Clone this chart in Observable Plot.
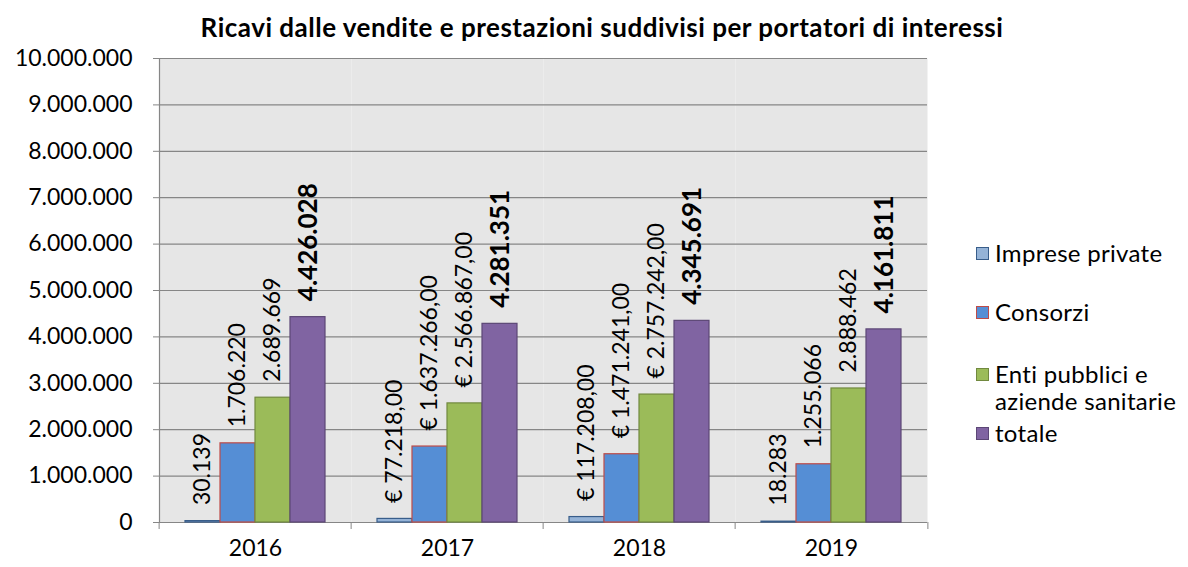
<!DOCTYPE html>
<html><head><meta charset="utf-8">
<script src="https://cdn.jsdelivr.net/npm/d3@7"></script>
<script src="https://cdn.jsdelivr.net/npm/@observablehq/plot@0.6"></script>
<style>
body{margin:0;background:#fff;font-family:Lato,sans-serif;color:#000;}
#wrap{position:relative;width:1188px;height:567px;overflow:hidden;}
#title{position:absolute;top:11px;left:602px;transform:translateX(-50%);white-space:nowrap;font-weight:bold;font-size:26px;letter-spacing:0.5px;line-height:32px;}
#chart{position:absolute;left:0;top:0;}
.lg{position:absolute;left:976px;font-size:24px;line-height:27px;display:flex;align-items:flex-start;white-space:nowrap;letter-spacing:0.3px;}
.sw{width:11px;height:11px;border:1.5px solid;margin-top:8px;margin-right:6px;flex:none;}
</style></head><body>
<div id="wrap">
<div id="chart"></div>
<div id="title">Ricavi dalle vendite e prestazioni suddivisi per portatori di interessi</div>
<div id="legend"></div>
</div>
<script>
const years = ["2016", "2017", "2018", "2019"];
const series = ["Imprese private", "Consorzi", "Enti pubblici e aziende sanitarie", "totale"];
const legendLabels = ["Imprese private", "Consorzi", "Enti pubblici e<br>aziende sanitarie", "totale"];
const imprese = [30139, 77218, 117208, 18283];
const consorzi = [1706220, 1637266, 1471241, 1255066];
const enti = [2689669, 2566867, 2757242, 2888462];
const totale = [4426028, 4281351, 4345691, 4161811];
const euroYears = ["2017", "2018"];
const yTicks = [0, 1000000, 2000000, 3000000, 4000000, 5000000, 6000000, 7000000, 8000000, 9000000, 10000000];
const fills = ["#95b3d7", "#558ed5", "#9bbb59", "#8064a2"];
const strokes = ["#385d8a", "#be4b48", "#71893f", "#5c4776"];

const valuesBySeries = [imprese, consorzi, enti, totale];
const locale = d3.formatLocale({decimal: ",", thousands: ".", grouping: [3], currency: ["€ ", ""]});
const fmtInt = locale.format(",d");
const fmtEur = locale.format("$,.2f");

const data = years.flatMap((yr, i) => series.map((s, j) => ({
  year: yr, series: s, idx: j, value: valuesBySeries[j][i],
  label: j === 3 ? fmtInt(valuesBySeries[j][i]) : (euroYears.includes(yr) ? fmtEur(valuesBySeries[j][i]) : fmtInt(valuesBySeries[j][i]))
})));

const W = 1188, H = 567, ML = 157, MR = 260, MT = 58, MB = 45;
const step = (W - ML - MR) / years.length;
const grid = "#868686";

const chart = Plot.plot({
  width: W, height: H,
  marginLeft: ML, marginRight: MR, marginTop: MT, marginBottom: MB,
  style: {fontFamily: "Lato, sans-serif", fontSize: "23px", color: "#000", background: "transparent"},
  fx: {domain: years, paddingInner: 0, paddingOuter: 0, axis: null, label: null},
  x: {domain: series, paddingInner: 0, paddingOuter: 0.738, axis: null},
  y: {domain: [0, 10000000], axis: null},
  marks: [
    Plot.frame({fill: "#e6e6e6", stroke: "none"}),
    Plot.ruleY(yTicks, {stroke: grid, strokeWidth: 1.2}),
    Plot.barY(data, {fx: "year", x: "series", y: "value", fill: d => fills[d.idx], stroke: d => strokes[d.idx], strokeWidth: 1.2}),
    Plot.text(data.filter(d => d.idx < 3), {fx: "year", x: "series", y: "value", text: "label", rotate: -90, textAnchor: "start", lineAnchor: "middle", dy: -16, fontSize: 23, fill: "#000"}),
    Plot.text(data.filter(d => d.idx === 3), {fx: "year", x: "series", y: "value", text: "label", rotate: -90, textAnchor: "start", lineAnchor: "middle", dy: -16, dx: 1, fontSize: 26, fontWeight: "bold", fill: "#000"}),
    Plot.axisY({ticks: yTicks, tickFormat: fmtInt, tickSize: 6, tickPadding: 21, stroke: grid, fontSize: 23, anchor: "left", label: null}),
    Plot.frame({anchor: "left", facetAnchor: "left", stroke: grid, strokeWidth: 1.2}),
    Plot.axisFx({anchor: "bottom", tickSize: 0, tickPadding: 17, fontSize: 23, label: null}),
    Plot.axisFx({anchor: "bottom", tickSize: 7, text: null, dx: -step / 2, stroke: grid, label: null}),
    Plot.axisFx({anchor: "bottom", ticks: [years[years.length - 1]], tickSize: 7, text: null, dx: step / 2, stroke: grid, label: null})
  ]
});
document.getElementById("chart").appendChild(chart);

const legendTops = [239, 298, 360, 419];
const lg = document.getElementById("legend");
series.forEach((s, j) => {
  const row = document.createElement("div");
  row.className = "lg";
  row.style.top = legendTops[j] + "px";
  row.innerHTML = `<span class="sw" style="background:${fills[j]};border-color:${strokes[j]}"></span><span>${legendLabels[j]}</span>`;
  lg.appendChild(row);
});
</script>
</body></html>
